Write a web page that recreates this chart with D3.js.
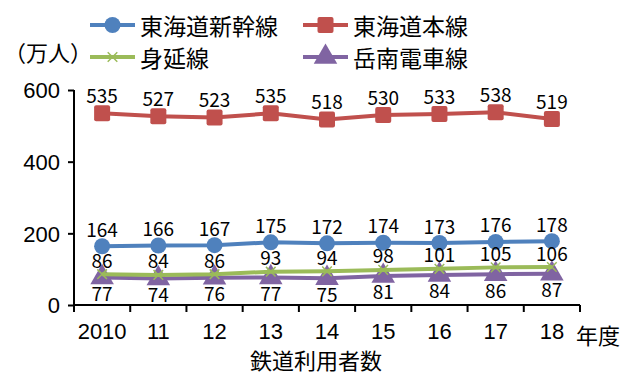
<!DOCTYPE html>
<html><head><meta charset="utf-8">
<script src="https://cdn.jsdelivr.net/npm/d3@7"></script>
<style>body{margin:0;background:#fff;} svg{display:block;font-family:"Noto Sans CJK JP","Noto Sans",sans-serif;}</style>
</head><body>
<script>
const years = ["2010","11","12","13","14","15","16","17","18"];
const shinkansen = [164,166,167,175,172,174,173,176,178];
const honsen = [535,527,523,535,518,530,533,538,519];
const minobu = [86,84,86,93,94,98,101,105,106];
const gakunan = [77,74,76,77,75,81,84,86,87];
const yTicks = [0,200,400,600];

const series = [
  {name:"東海道新幹線", values:shinkansen, color:"#4F81BD", marker:"circle", labelDy:-18},
  {name:"東海道本線", values:honsen, color:"#C0504D", marker:"square", labelDy:-19},
  {name:"身延線", values:minobu, color:"#9BBB59", marker:"x", labelDy:-15},
  {name:"岳南電車線", values:gakunan, color:"#8064A2", marker:"triangle", labelDy:15}
];

const W=627,H=376;
const svg=d3.select("body").append("svg").attr("width",W).attr("height",H);
const x=d3.scaleBand().domain(years).range([74,580]);
const y=d3.scaleLinear().domain([0,600]).range([305,90]);

// axes
const yAxis=svg.append("g").attr("transform","translate(74,0)")
  .call(d3.axisLeft(y).tickValues(yTicks).tickSize(6).tickPadding(8));
const xAxis=svg.append("g").attr("transform","translate(0,305)")
  .call(d3.axisBottom(x).tickSize(0).tickPadding(18));
[yAxis,xAxis].forEach(g=>{
  g.selectAll("path.domain").attr("stroke","#000").attr("stroke-width",2);
  g.selectAll("line").attr("stroke","#000").attr("stroke-width",2);
  g.selectAll("text").attr("fill","#000").style("font-size","22px");
});
yAxis.selectAll("text").attr("dy","0.36em");
yAxis.selectAll("path.domain").attr("d","M0,90V305");
xAxis.selectAll("path.domain").attr("d","M74,0H580");
// x category boundary ticks
xAxis.selectAll(".bt").data(years.concat(["end"])).enter().append("line")
  .attr("x1",(d,i)=>74+i*x.bandwidth()).attr("x2",(d,i)=>74+i*x.bandwidth())
  .attr("y1",0).attr("y2",7).attr("stroke","#000").attr("stroke-width",2);

function marker(g,type,color,size){
  if(type==="circle") g.append("circle").attr("r",size).attr("fill",color);
  else if(type==="square") g.append("rect").attr("x",-size).attr("y",-size).attr("width",2*size).attr("height",2*size).attr("rx",2).attr("fill",color);
  else if(type==="triangle") g.append("path").attr("d",d3.symbol(d3.symbolTriangle, size*size*2.4)()).attr("fill",color);
  else if(type==="x") g.append("path").attr("d",`M${-size*0.6},${-size*0.6}L${size*0.6},${size*0.6}M${-size*0.6},${size*0.6}L${size*0.6},${-size*0.6}`).attr("stroke",color).attr("stroke-width",1.5).attr("fill","none");
}
const sizes={circle:8,square:8,triangle:10,x:8};
const line=d3.line().x((d,i)=>x(years[i])+x.bandwidth()/2).y(d=>y(d));

// draw order: purple, green, blue, red
[3,2,0,1].forEach(si=>{
  const s=series[si];
  svg.append("path").datum(s.values).attr("d",line).attr("fill","none").attr("stroke",s.color).attr("stroke-width",4);
  s.values.forEach((v,i)=>{
    const g=svg.append("g").attr("transform",`translate(${x(years[i])+x.bandwidth()/2},${y(v)})`);
    marker(g,s.marker,s.color,sizes[s.marker]);
  });
});
series.forEach(s=>{
  s.values.forEach((v,i)=>{
    svg.append("text").attr("x",x(years[i])+x.bandwidth()/2).attr("y",y(v)+s.labelDy)
      .attr("text-anchor","middle").attr("dominant-baseline","central")
      .style("font-size","19px").attr("fill","#000").text(v);
  });
});

// legend
const legPos=[[90,25],[303,25],[90,57],[303,57]];
series.forEach((s,i)=>{
  const [lx,ly]=legPos[i];
  const g=svg.append("g").attr("transform",`translate(${lx},${ly})`);
  g.append("line").attr("x1",0).attr("x2",45).attr("stroke",s.color).attr("stroke-width",4);
  const m=g.append("g").attr("transform","translate(22.5,0)");
  marker(m,s.marker,s.color,sizes[s.marker]);
  g.append("text").attr("x",50).attr("dominant-baseline","central").style("font-size","23px").attr("fill","#000").text(s.name);
});
svg.append("text").attr("x",4).attr("y",51).attr("dominant-baseline","central").style("font-size","22px").text("（万人）");
svg.append("text").attr("x",576).attr("y",334).attr("dominant-baseline","central").style("font-size","22px").text("年度");
svg.append("text").attr("x",316).attr("y",359).attr("text-anchor","middle").attr("dominant-baseline","central").style("font-size","22px").text("鉄道利用者数");
</script>
</body></html>
